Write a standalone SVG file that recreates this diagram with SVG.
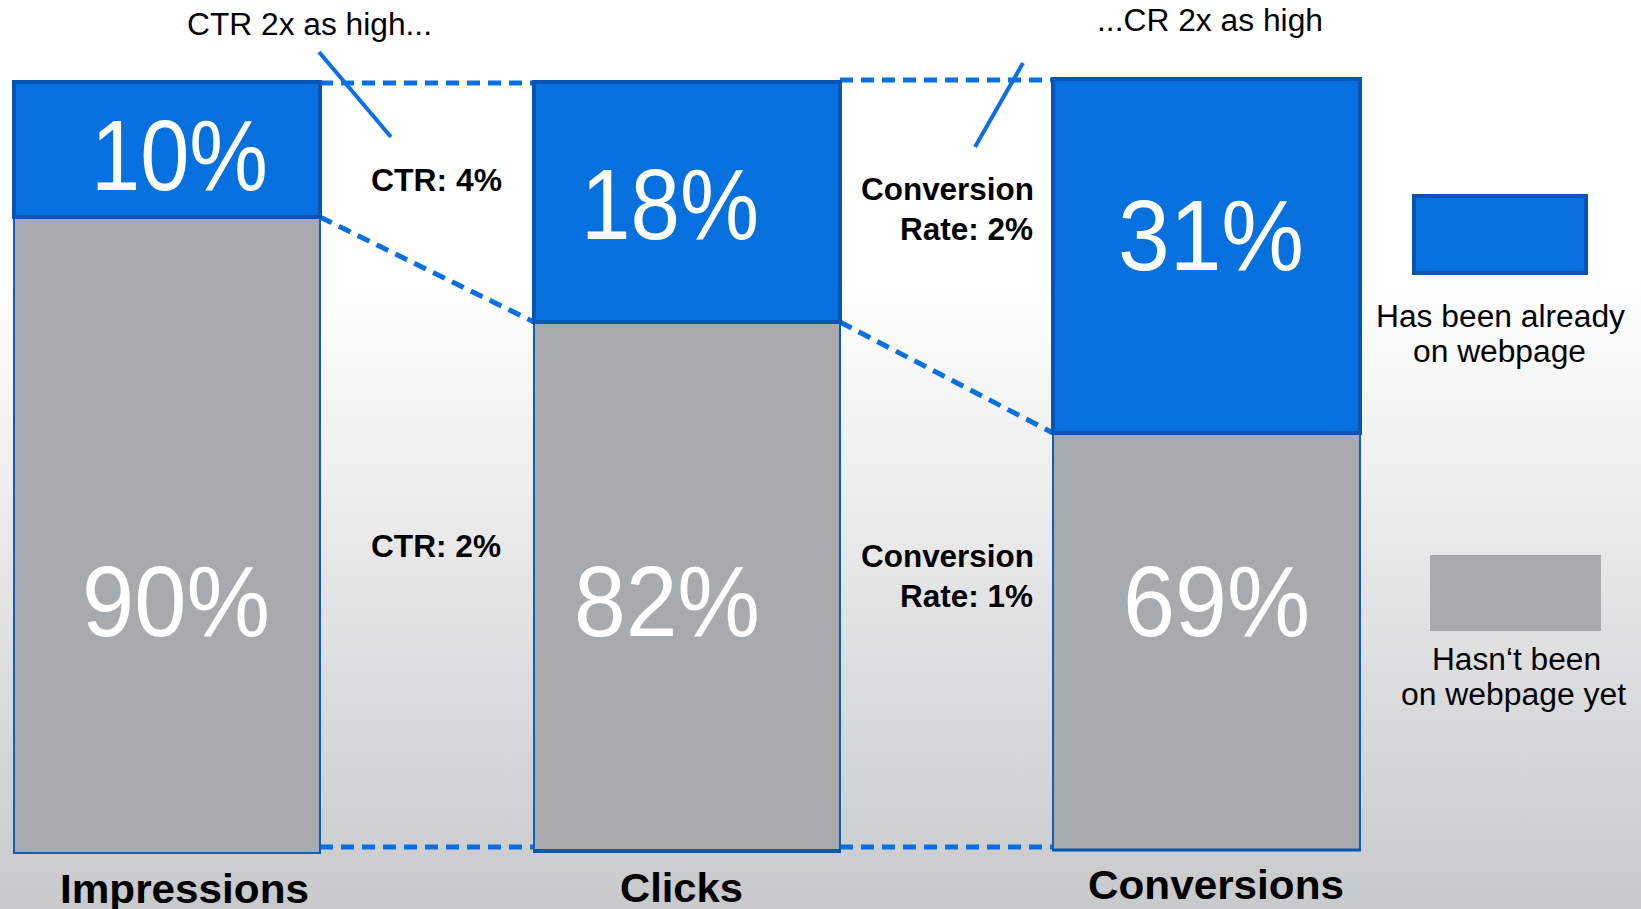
<svg xmlns="http://www.w3.org/2000/svg" width="1641" height="909" viewBox="0 0 1641 909">
<defs>
<linearGradient id="bg" x1="0" y1="0" x2="0" y2="1">
<stop offset="0" stop-color="#ffffff"/>
<stop offset="0.3" stop-color="#ffffff"/>
<stop offset="1" stop-color="#c8c9cb"/>
</linearGradient>
<style>
.gray{fill:#a8abae;stroke:#0b5fc0;stroke-width:2}
.blue{fill:#0670de;stroke:#0456b2;stroke-width:4}
.pct{font-family:"Liberation Sans",Arial,sans-serif;font-size:100px;fill:#ffffff}
.lbl{font-family:"Liberation Sans",Arial,sans-serif;font-size:31px;fill:#000000}
.bold{font-family:"Liberation Sans",Arial,sans-serif;font-size:31px;font-weight:bold;fill:#000000}
.axis{font-family:"Liberation Sans",Arial,sans-serif;font-size:40px;font-weight:bold;fill:#000000}
.dash{stroke:#0a6fe0;stroke-width:5;stroke-dasharray:13 8;fill:none}
.solid{stroke:#0a6fe0;stroke-width:4;fill:none}
</style>
</defs>
<rect x="0" y="0" width="1641" height="909" fill="url(#bg)"/>

<g id="connectors">
<line class="dash" x1="320" y1="83" x2="534" y2="83"/>
<line class="dash" x1="840" y1="80" x2="1053" y2="80"/>
<line class="dash" x1="320" y1="217" x2="534" y2="322"/>
<line class="dash" x1="840" y1="322" x2="1053" y2="433"/>
<line class="dash" x1="320" y1="847" x2="534" y2="847"/>
<line class="dash" x1="840" y1="847" x2="1053" y2="847"/>
<line class="solid" x1="319" y1="52" x2="391" y2="137"/>
<line class="solid" x1="1023" y1="63" x2="975" y2="147"/>
</g>

<g id="impressions">
<rect class="gray" x="14" y="217" width="306" height="636"/>
<rect class="blue" x="14" y="82" width="306" height="135"/>
<text class="pct" x="91" y="190" textLength="177" lengthAdjust="spacingAndGlyphs">10%</text>
<text class="pct" x="82" y="636" textLength="188" lengthAdjust="spacingAndGlyphs">90%</text>
<text class="axis" x="60" y="903" textLength="249" lengthAdjust="spacingAndGlyphs">Impressions</text>
</g>

<g id="clicks">
<rect class="gray" x="534" y="322" width="306" height="529"/>
<line x1="533" y1="851" x2="841" y2="851" stroke="#0456b2" stroke-width="4"/>
<rect class="blue" x="534" y="82" width="306" height="240"/>
<text class="pct" x="581" y="239" textLength="178" lengthAdjust="spacingAndGlyphs">18%</text>
<text class="pct" x="574" y="636" textLength="186" lengthAdjust="spacingAndGlyphs">82%</text>
<text class="axis" x="620" y="902" textLength="123" lengthAdjust="spacingAndGlyphs">Clicks</text>
</g>

<g id="conversions">
<rect class="gray" x="1053" y="433" width="307" height="417"/>
<line x1="1052" y1="850" x2="1361" y2="850" stroke="#0456b2" stroke-width="3"/>
<rect class="blue" x="1053" y="79" width="307" height="354"/>
<text class="pct" x="1118" y="270" textLength="186" lengthAdjust="spacingAndGlyphs">31%</text>
<text class="pct" x="1123" y="636" textLength="187" lengthAdjust="spacingAndGlyphs">69%</text>
<text class="axis" x="1088" y="899" textLength="256" lengthAdjust="spacingAndGlyphs">Conversions</text>
</g>

<g id="rate-labels">
<text class="lbl" x="187" y="35" textLength="245" lengthAdjust="spacingAndGlyphs">CTR 2x as high...</text>
<text class="lbl" x="1097" y="31" textLength="226" lengthAdjust="spacingAndGlyphs">...CR 2x as high</text>
<text class="bold" x="371" y="191" textLength="131" lengthAdjust="spacingAndGlyphs">CTR: 4%</text>
<text class="bold" x="371" y="557" textLength="130" lengthAdjust="spacingAndGlyphs">CTR: 2%</text>
<text class="bold" x="861" y="200" textLength="173" lengthAdjust="spacingAndGlyphs">Conversion</text>
<text class="bold" x="900" y="240" textLength="133" lengthAdjust="spacingAndGlyphs">Rate: 2%</text>
<text class="bold" x="861" y="567" textLength="173" lengthAdjust="spacingAndGlyphs">Conversion</text>
<text class="bold" x="900" y="607" textLength="133" lengthAdjust="spacingAndGlyphs">Rate: 1%</text>
</g>

<g id="legend-blue">
<rect class="blue" x="1414" y="196" width="172" height="77"/>
<text class="lbl" x="1376" y="327" textLength="249" lengthAdjust="spacingAndGlyphs">Has been already</text>
<text class="lbl" x="1413" y="362" textLength="173" lengthAdjust="spacingAndGlyphs">on webpage</text>
</g>

<g id="legend-gray">
<rect x="1430" y="555" width="171" height="76" fill="#a8abae"/>
<text class="lbl" x="1432" y="670" textLength="169" lengthAdjust="spacingAndGlyphs">Hasn‘t been</text>
<text class="lbl" x="1401" y="705" textLength="225" lengthAdjust="spacingAndGlyphs">on webpage yet</text>
</g>
</svg>
